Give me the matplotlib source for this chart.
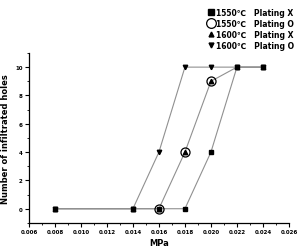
import matplotlib
matplotlib.use("Agg")
import matplotlib.pyplot as plt
from matplotlib.lines import Line2D
from matplotlib.ticker import MultipleLocator

# data
x_sq = [0.008, 0.014, 0.016, 0.018, 0.020, 0.022, 0.024]
y_sq = [0, 0, 0, 0, 4, 10, 10]          # 1550C plating X
x_ci = [0.016, 0.018, 0.020]
y_ci = [0, 4, 9]                        # 1550C plating O
x_up = [0.008, 0.014, 0.016, 0.018, 0.020, 0.022, 0.024]
y_up = [0, 0, 0, 4, 9, 10, 10]          # 1600C plating X
x_dn = [0.008, 0.014, 0.016, 0.018, 0.020, 0.022, 0.024]
y_dn = [0, 0, 4, 10, 10, 10, 10]        # 1600C plating O
labels = ["1550℃   Plating X", "1550℃   Plating O",
          "1600℃   Plating X", "1600℃   Plating O"]

fig = plt.figure(figsize=(3.01, 2.51), dpi=100)
ax = fig.add_axes([0.096, 0.108, 0.864, 0.677])

lc = '#909090'
ax.plot(x_dn, y_dn, color=lc, lw=0.8, marker='v', ms=3.2, mfc='k', mec='k', zorder=2)
ax.plot(x_up, y_up, color=lc, lw=0.8, marker='^', ms=3.2, mfc='k', mec='k', zorder=2)
ax.plot(x_sq, y_sq, color=lc, lw=0.8, marker='s', ms=3.0, mfc='k', mec='k', zorder=3)
ax.plot(x_ci, y_ci, ls='none', marker='o', ms=6.5, mfc='none', mec='k', mew=0.9, zorder=4)

ax.set_xlim(0.006, 0.026)
ax.set_ylim(-1, 11)
ax.xaxis.set_major_locator(MultipleLocator(0.002))
ax.xaxis.set_minor_locator(MultipleLocator(0.001))
ax.yaxis.set_major_locator(MultipleLocator(2))
ax.yaxis.set_minor_locator(MultipleLocator(1))
ax.xaxis.set_major_formatter(plt.FuncFormatter(lambda v, p: f"{v:.3f}"))
ax.tick_params(which='major', length=3, width=0.8, labelsize=4, pad=1.5)
ax.tick_params(which='minor', length=1.5, width=0.6)
for t in ax.get_xticklabels() + ax.get_yticklabels():
    t.set_fontweight('bold')
ax.spines['top'].set_visible(False)
ax.spines['right'].set_visible(False)
ax.spines['left'].set_linewidth(0.9)
ax.spines['bottom'].set_linewidth(0.9)

ax.set_xlabel("MPa", fontsize=6, fontweight='bold', labelpad=3)
ax.set_ylabel("Number of infiltrated holes", fontsize=6, fontweight='bold', labelpad=4)

handles = [
    Line2D([], [], ls='none', marker='s', ms=4, mfc='k', mec='k'),
    Line2D([], [], ls='none', marker='o', ms=7, mfc='none', mec='k', mew=0.9),
    Line2D([], [], ls='none', marker='^', ms=3.5, mfc='k', mec='k'),
    Line2D([], [], ls='none', marker='v', ms=3.5, mfc='k', mec='k'),
]
fig.legend(handles, labels, loc='upper right', bbox_to_anchor=(0.995, 0.985),
           frameon=False, handlelength=0.8, handletextpad=0.2, labelspacing=0.25,
           borderpad=0.2, prop={'size': 5.5, 'weight': 'bold'})

fig.savefig("out.png", dpi=100)
